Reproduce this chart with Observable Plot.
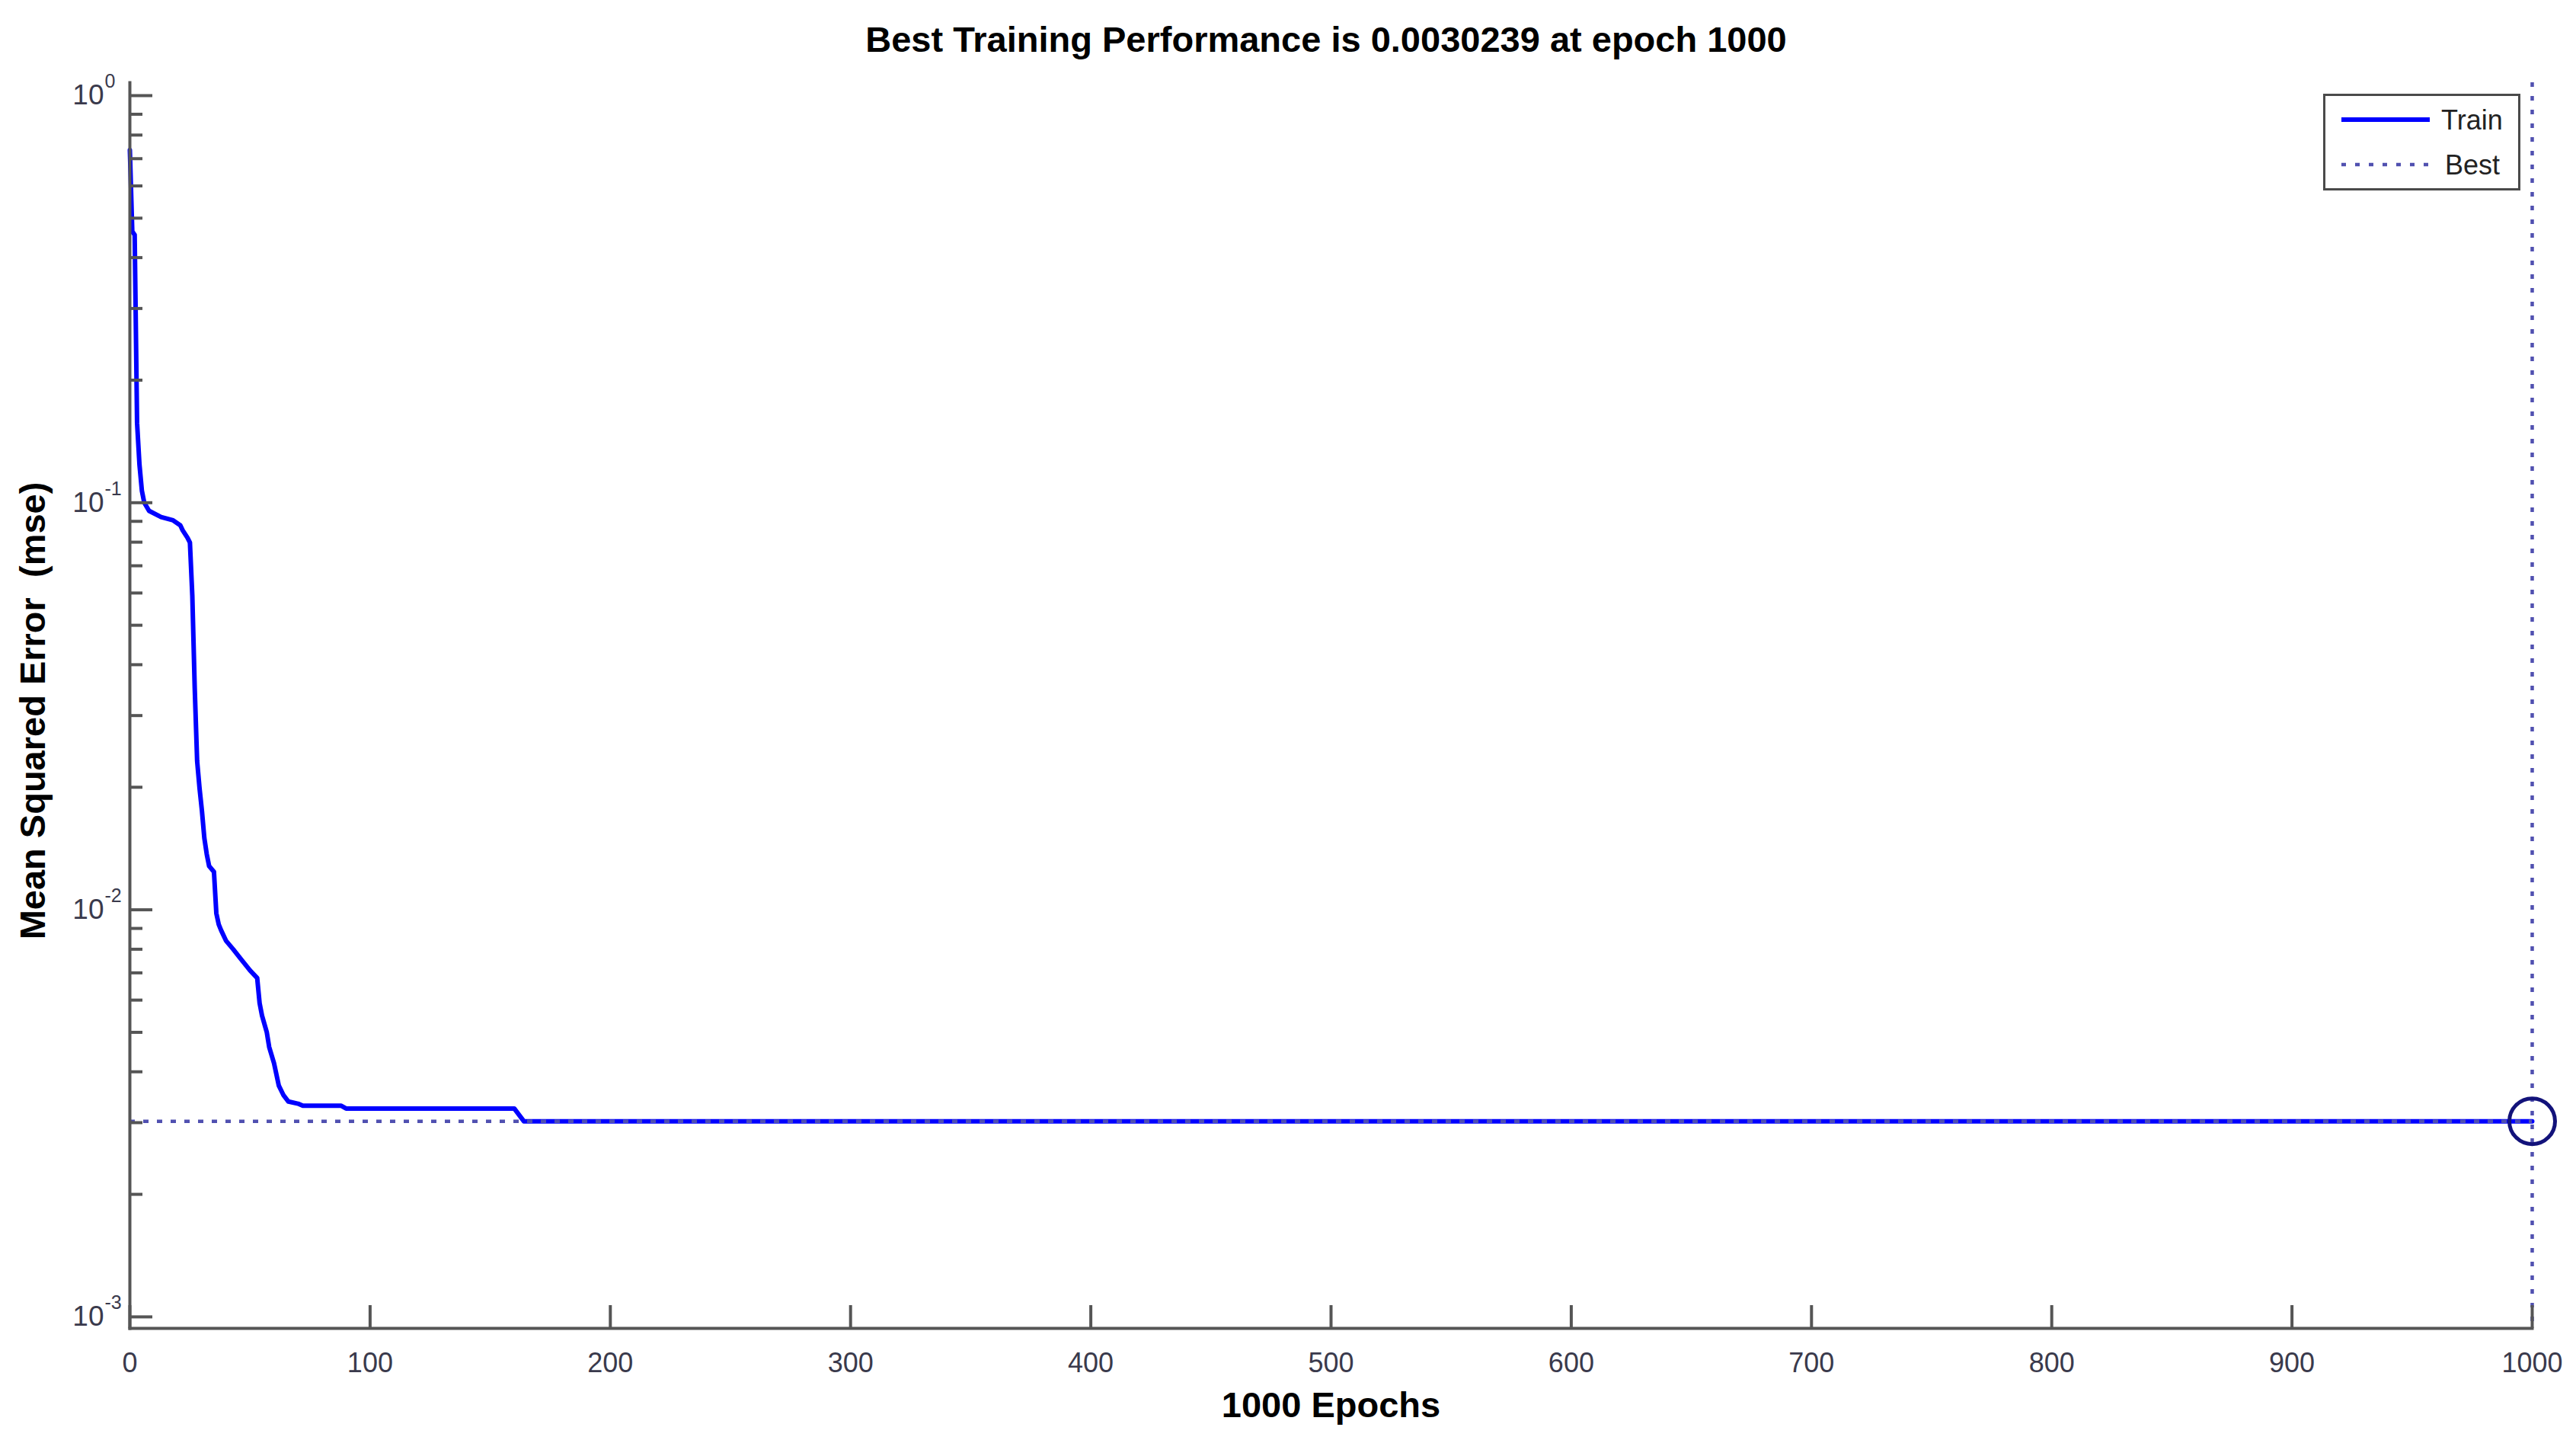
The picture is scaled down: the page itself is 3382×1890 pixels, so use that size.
<!DOCTYPE html>
<html>
<head>
<meta charset="utf-8">
<script src="https://cdn.jsdelivr.net/npm/d3@7"></script>
<script src="https://cdn.jsdelivr.net/npm/@observablehq/plot@0.6"></script>
<style>
  html, body { margin: 0; padding: 0; background: #fff; }
  #wrap { position: relative; width: 3382px; height: 1890px; font-family: "Liberation Sans", Arial, sans-serif; }
  #title { height: 87px; box-sizing: border-box; padding-top: 17px; padding-left: 100px; line-height: 70px;
           text-align: center; font-weight: bold; font-size: 47px; color: #000; white-space: nowrap; }
  #legend { position: absolute; left: 3050px; top: 123px; width: 259px; height: 127px; box-sizing: border-box;
            border: 3px solid #4a4a4a; background: #fff; }
</style>
</head>
<body>
<div id="wrap">
  <div id="title"></div>
  <div id="chart"></div>
  <div id="legend"></div>
</div>
<script>
// ---- data ----
const titleText = "Best Training Performance is 0.0030239 at epoch 1000";
const xLabel = "1000 Epochs";
const yLabel = "Mean Squared Error  (mse)";
const seriesNames = ["Train", "Best"];

const epochs = [0, 1, 2, 3, 4, 5, 6, 8, 13, 18, 21, 22, 24, 25, 26, 27, 28, 29, 30, 31, 32, 33, 35, 36, 37, 38, 40, 43, 46, 50, 53, 54, 55, 57, 58, 60, 62, 64, 66, 70, 72, 88, 90, 160, 164, 1000];
const mse    = [0.735, 0.464, 0.455, 0.157, 0.124, 0.107, 0.100, 0.0955, 0.0922, 0.0905, 0.088, 0.0855, 0.082, 0.0798, 0.059, 0.035, 0.0232, 0.0199, 0.0175, 0.0150, 0.0137, 0.0128, 0.0124, 0.0098, 0.0092, 0.0089, 0.0084, 0.0080, 0.0076, 0.0071, 0.0068, 0.0059, 0.0055, 0.0050, 0.0046, 0.0042, 0.0037, 0.0035, 0.00338, 0.00334, 0.0033, 0.0033, 0.00325, 0.00325, 0.0030239, 0.0030239];

const bestEpoch = 1000;
const bestPerf = 0.0030239;

const xTicks = [0, 100, 200, 300, 400, 500, 600, 700, 800, 900, 1000];
const yMajor = [1e-3, 1e-2, 1e-1, 1e0];
const yExp = ["-3", "-2", "-1", "0"];
const yMinor = [2e-3,3e-3,4e-3,5e-3,6e-3,7e-3,8e-3,9e-3, 2e-2,3e-2,4e-2,5e-2,6e-2,7e-2,8e-2,9e-2, 2e-1,3e-1,4e-1,5e-1,6e-1,7e-1,8e-1,9e-1];
const xDomain = [0, 1000];
const yDomain = [0.000937, 1.076];

// ---- styles ----
const trainColor = "#0000ff";
const bestColor = "#5050b0";
const circleColor = "#12127a";
const axisColor = "#555555";
const tickTextColor = "#3a3a4c";
const font = "'Liberation Sans', Arial, sans-serif";

document.getElementById("title").textContent = titleText;

const trainData = epochs.map((e, i) => ({epoch: e, mse: mse[i]}));

const chart = Plot.plot({
  width: 3382,
  height: 1803,
  marginLeft: 170,
  marginRight: 58,
  marginTop: 21,
  marginBottom: 147,
  style: {fontFamily: font, fontSize: "36px", background: "#fff", overflow: "visible"},
  x: {domain: xDomain},
  y: {type: "log", domain: yDomain},
  marks: [
    Plot.line(trainData, {x: "epoch", y: "mse", stroke: trainColor, strokeWidth: 6, strokeLinejoin: "round"}),
    Plot.ruleY([bestPerf], {x1: 0, x2: bestEpoch, y: d => d, stroke: bestColor, strokeWidth: 4.5, strokeDasharray: "7,11"}),
    Plot.ruleX([bestEpoch], {x: d => d, stroke: bestColor, strokeWidth: 4.5, strokeDasharray: "6,12"}),
    Plot.dot([{e: bestEpoch, p: bestPerf}], {x: "e", y: "p", r: 30, stroke: circleColor, strokeWidth: 5, fill: "none"}),
    Plot.frame({anchor: "left", stroke: axisColor, strokeWidth: 4}),
    Plot.frame({anchor: "bottom", stroke: axisColor, strokeWidth: 4}),
    Plot.axisX({ticks: xTicks, tickSize: -30, tickPadding: 62, stroke: axisColor, fill: tickTextColor, strokeWidth: 4, fontSize: 36, label: null, tickFormat: d => String(d)}),
    Plot.axisY({ticks: yMajor, tickSize: -30, stroke: axisColor, strokeWidth: 4, label: null, tickFormat: () => ""}),
    Plot.axisY({ticks: yMinor, tickSize: -17, stroke: axisColor, strokeWidth: 4, label: null, tickFormat: () => ""}),
    Plot.text(yMajor, {y: d => d, frameAnchor: "left", text: () => "10", textAnchor: "end", lineAnchor: "middle", dx: -34, fontSize: 37, fill: tickTextColor}),
    Plot.text(yMajor, {y: d => d, frameAnchor: "left", text: (d, i) => yExp[i], textAnchor: "start", lineAnchor: "middle", dx: -33, dy: -18, fontSize: 25, fill: tickTextColor}),
    Plot.text([xLabel], {frameAnchor: "bottom", text: d => d, textAnchor: "middle", lineAnchor: "middle", dy: 101, fontSize: 47, fontWeight: "bold", fill: "#000"}),
    Plot.text([yLabel], {frameAnchor: "left", text: d => d, rotate: -90, textAnchor: "middle", lineAnchor: "middle", dx: -127, dy: 7, fontSize: 47, fontWeight: "bold", fill: "#000"})
  ]
});
document.getElementById("chart").appendChild(chart);

// ---- legend ----
const lg = d3.select("#legend").append("svg").attr("width", 253).attr("height", 121)
  .style("font-family", font);
lg.append("line").attr("x1", 21).attr("x2", 137).attr("y1", 31).attr("y2", 31)
  .attr("stroke", trainColor).attr("stroke-width", 6);
lg.append("text").attr("x", 152).attr("y", 31).attr("dy", "0.35em").attr("font-size", 36)
  .attr("fill", "#222").text(seriesNames[0]);
lg.append("line").attr("x1", 21).attr("x2", 137).attr("y1", 90).attr("y2", 90)
  .attr("stroke", bestColor).attr("stroke-width", 4.5).attr("stroke-dasharray", "6,12");
lg.append("text").attr("x", 157).attr("y", 90).attr("dy", "0.35em").attr("font-size", 36)
  .attr("fill", "#222").text(seriesNames[1]);
</script>
</body>
</html>
